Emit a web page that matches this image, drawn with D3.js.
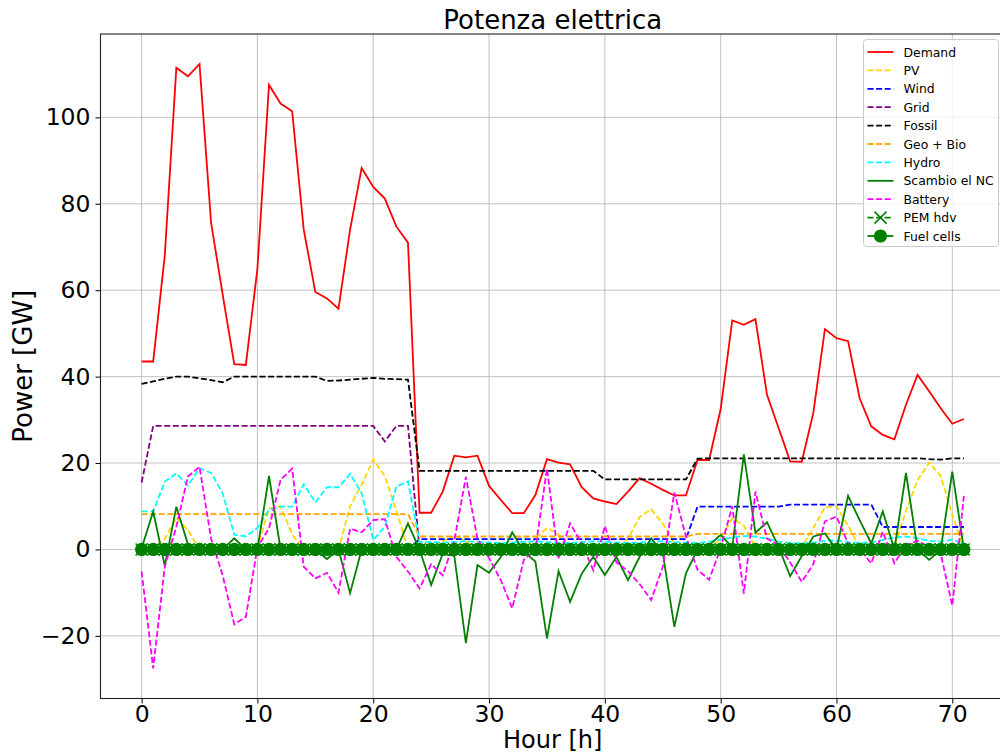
<!DOCTYPE html>
<html>
<head>
<meta charset="utf-8">
<script src="https://cdn.jsdelivr.net/npm/d3@7"></script>
<style>
  body { margin: 0; background: #fff; }
  svg { display: block; font-family: "DejaVu Sans", sans-serif; }
</style>
</head>
<body>
<script>
// ore (0..71) e potenze in GW
const hours = [
  0, 1, 2, 3, 4, 5, 6, 7, 8, 9, 10, 11, 12, 13, 14, 15, 16, 17, 18, 19, 20, 21, 22, 23,
  24, 25, 26, 27, 28, 29, 30, 31, 32, 33, 34, 35, 36, 37, 38, 39, 40, 41, 42, 43, 44, 45, 46, 47,
  48, 49, 50, 51, 52, 53, 54, 55, 56, 57, 58, 59, 60, 61, 62, 63, 64, 65, 66, 67, 68, 69, 70, 71
]
const demand = [
  43.5, 43.5, 68, 111.5, 109.5, 112.3, 75.6, 59, 42.9, 42.7, 65, 107.5, 103.2, 101.4, 74, 59.6, 58.1, 55.7, 74, 88.3, 83.9, 81.2, 74.7, 71,
  8.5, 8.5, 13.4, 21.7, 21.3, 21.7, 14.7, 11.5, 8.4, 8.4, 12.6, 20.9, 20.1, 19.7, 14.4, 11.8, 11.1, 10.5, 13.4, 16.5, 15.2, 13.8, 12.5, 12.5,
  20.7, 20.7, 32.5, 53, 52, 53.3, 35.8, 28.1, 20.4, 20.3, 31.6, 51, 48.9, 48.2, 35, 28.5, 26.5, 25.5, 33.5, 40.4, 36.6, 32.7, 29.1, 30.2
]
const pv = [
  0, 0, 2.5, 7.3, 4.5, 0, 0, 0, 0, 0, 0.5, 9.5, 10, 3.5, 0, 0, 0, 0, 10, 15, 20.8, 17, 9, 0,
  0, 0, 2, 3, 2, 0, 0, 0, 0, 0, 2.5, 5, 3.5, 0.5, 0, 0, 0, 0, 2.5, 7.5, 9.3, 6, 1.5, 0,
  0, 0, 2.5, 7.2, 5.5, 0.5, 0, 0, 0, 0.5, 5, 9.8, 10, 5.5, 0.5, 0, 0, 0.5, 9, 16, 20.1, 17, 8, 0
]
const wind = [
  0, 0, 0, 0, 0, 0, 0, 0, 0, 0, 0, 0, 0, 0, 0, 0, 0, 0, 0, 0, 0, 0, 0, 0,
  2.4, 2.4, 2.4, 2.4, 2.4, 2.4, 2.4, 2.4, 2.4, 2.4, 2.4, 2.4, 2.4, 2.4, 2.4, 2.4, 2.4, 2.4, 2.4, 2.4, 2.4, 2.4, 2.4, 2.4,
  9.9, 9.9, 9.9, 9.9, 9.9, 9.9, 9.9, 9.9, 10.4, 10.4, 10.4, 10.4, 10.4, 10.4, 10.4, 10.4, 5.2, 5.2, 5.2, 5.2, 5.2, 5.2, 5.2, 5.2
]
const grid = [
  15.5, 28.6, 28.6, 28.6, 28.6, 28.6, 28.6, 28.6, 28.6, 28.6, 28.6, 28.6, 28.6, 28.6, 28.6, 28.6, 28.6, 28.6, 28.6, 28.6, 28.6, 25, 28.6, 28.6,
  0, 0, 0, 0, 0, 0, 0, 0, 0, 0, 0, 0, 0, 0, 0, 0, 0, 0, 0, 0, 0, 0, 0, 0,
  0, 0, 0, 0, 0, 0, 0, 0, 0, 0, 0, 0, 0, 0, 0, 0, 0, 0, 0, 0, 0, 0, 0, 0
]
const fossil = [
  38.3, 38.9, 39.5, 40, 40, 39.6, 39.2, 38.7, 40, 40, 40, 40, 40, 40, 40, 40, 39, 39.1, 39.3, 39.5, 39.7, 39.5, 39.4, 39.3,
  18.2, 18.2, 18.2, 18.2, 18.2, 18.2, 18.2, 18.2, 18.2, 18.2, 18.2, 18.2, 18.2, 18.2, 18.2, 18.2, 16.2, 16.2, 16.2, 16.2, 16.2, 16.2, 16.2, 16.2,
  21, 21.1, 21.1, 21.1, 21.1, 21.1, 21.1, 21.1, 21.1, 21.1, 21.1, 21.1, 21.1, 21.1, 21.1, 21.1, 21.1, 21.1, 21.1, 21.1, 20.9, 20.8, 21.1, 21.1
]
const geoBio = [
  8.2, 8.2, 8.2, 8.2, 8.2, 8.2, 8.2, 8.2, 8.2, 8.2, 8.2, 8.2, 8.2, 8.2, 8.2, 8.2, 8.2, 8.2, 8.2, 8.2, 8.2, 8.2, 8.2, 8.2,
  3, 3, 3, 3, 3, 3, 3, 3, 3, 3, 3, 3, 3, 3, 3, 3, 3, 3, 3, 3, 3, 3, 3, 3,
  3.6, 3.6, 3.6, 3.6, 3.6, 3.6, 3.6, 3.6, 3.6, 3.6, 3.6, 3.6, 3.6, 3.6, 3.6, 3.6, 3.6, 3.6, 3.6, 3.6, 3.6, 3.6, 3.6, 3.6
]
const hydro = [
  8.8, 8.8, 15.7, 17.6, 14.8, 18.8, 17.7, 13, 3.4, 3, 5, 9.2, 9.9, 9.9, 15.1, 10.9, 14.4, 14.4, 17.5, 13, 2.2, 5.3, 14.6, 15.7,
  1.8, 1.7, 1.6, 1.7, 1.9, 1.8, 1.6, 1.5, 1.6, 1.8, 1.9, 1.7, 1.5, 1.5, 1.7, 1.9, 1.8, 1.6, 1.5, 1.6, 1.8, 1.9, 1.7, 1.6,
  1.5, 1.8, 2.3, 2.8, 3.1, 3, 2.5, 1.8, 1.5, 1.4, 1.6, 2, 2.1, 1.7, 1.5, 1.6, 2.2, 2.8, 3, 2.6, 2, 1.8, 2.3, 1.2
]
const scambio = [
  0.3, 8.8, -3.8, 9.9, 1.2, 0, 0, 0, 2.6, 0, 0, 17, 0, 0, 0, 0, -2.2, 0, -10.1, 0, 0, 0, 0, 6,
  0, -8.2, -1, -1.5, -21.7, -3.6, -5.4, -1.8, 4, -0.5, -2.8, -20.6, -5, -12.1, -5.6, -1.7, -5.9, -1.7, -7.1, -1.7, 2.6, -0.8, -17.9, -5.5,
  0, 1, 3.4, 0.5, 22, 3.9, 6.3, 0.6, -6.2, -1.5, 3, 3.7, 0, 12.4, 6.8, 1.4, 8.8, 0, 17.7, 0, -2.4, 0, 18, 0
]
const battery = [
  -5.1, -27.5, -4, 5.3, 16.9, 19.1, 2.5, -6, -17.3, -15.6, 0.5, 4.9, 16.1, 18.7, -4, -6.7, -5.4, -10, 4.8, 4, 6.8, 7, -1.7, -5.1,
  -9, -3.4, -6, 2, 16.8, 2.5, -2, -7, -13.6, -2.4, 0, 18.7, -2, 6, 1.4, -4.8, 5.4, -3, -5, -8, -11.7, -4, 13.2, 3,
  -4.7, -7, 0.3, 10, -10.2, 13.4, 2.5, 1, -3, -7.5, -3.4, 6.5, 7.6, 1.4, 0, -3.2, 4.1, -3.2, 1, 2, 0.5, -1, -13, 12.4
]
const pemHdv = [
  0, 0, 0, 0, 0, 0, 0, 0, 0, 0, 0, 0, 0, 0, 0, 0, 0, 0, 0, 0, 0, 0, 0, 0,
  0, 0, 0, 0, 0, 0, 0, 0, 0, 0, 0, 0, 0, 0, 0, 0, 0, 0, 0, 0, 0, 0, 0, 0,
  0, 0, 0, 0, 0, 0, 0, 0, 0, 0, 0, 0, 0, 0, 0, 0, 0, 0, 0, 0, 0, 0, 0, 0
]
const fuelCells = [
  0, 0, 0, 0, 0, 0, 0, 0, 0, 0, 0, 0, 0, 0, 0, 0, 0, 0, 0, 0, 0, 0, 0, 0,
  0, 0, 0, 0, 0, 0, 0, 0, 0, 0, 0, 0, 0, 0, 0, 0, 0, 0, 0, 0, 0, 0, 0, 0,
  0, 0, 0, 0, 0, 0, 0, 0, 0, 0, 0, 0, 0, 0, 0, 0, 0, 0, 0, 0, 0, 0, 0, 0
]
const xTicks = [0, 10, 20, 30, 40, 50, 60, 70]
const yTicks = [-20, 0, 20, 40, 60, 80, 100]

const series = [
  { name: 'Demand', values: demand, color: 'red', dash: null },
  { name: 'PV', values: pv, color: 'gold', dash: '6,2.6' },
  { name: 'Wind', values: wind, color: 'blue', dash: '6,2.6' },
  { name: 'Grid', values: grid, color: 'purple', dash: '6,2.6' },
  { name: 'Fossil', values: fossil, color: 'black', dash: '6,2.6' },
  { name: 'Geo + Bio', values: geoBio, color: 'orange', dash: '6,2.6' },
  { name: 'Hydro', values: hydro, color: 'cyan', dash: '6,2.6' },
  { name: 'Scambio el NC', values: scambio, color: 'green', dash: null },
  { name: 'Battery', values: battery, color: 'magenta', dash: '6,2.6' },
  { name: 'PEM hdv', values: pemHdv, color: 'green', dash: '6,2.6', marker: 'x' },
  { name: 'Fuel cells', values: fuelCells, color: 'green', dash: null, marker: 'o' }
]

const W = 1000, H = 754
const mLeft = 100.5, mRight = 1005, mTop = 34, mBottom = 698.5

const svg = d3.select('body').append('svg')
  .attr('width', W)
  .attr('height', H)

// scale con margine del 5% come matplotlib
const xExt = d3.extent(hours)
const xPad = (xExt[1] - xExt[0]) * 0.05
const x = d3.scaleLinear().domain([xExt[0] - xPad, xExt[1] + xPad]).range([mLeft, mRight])

const allVals = series.flatMap(s => s.values)
const yExt = d3.extent(allVals)
const yPad = (yExt[1] - yExt[0]) * 0.05
const y = d3.scaleLinear().domain([yExt[0] - yPad, yExt[1] + yPad]).range([mBottom, mTop])

svg.append('clipPath').attr('id', 'clip')
  .append('rect')
  .attr('x', mLeft).attr('y', mTop)
  .attr('width', mRight - mLeft).attr('height', mBottom - mTop)

// griglia
const gridG = svg.append('g')
gridG.selectAll(null)
  .data(xTicks)
  .enter().append('line')
  .attr('x1', d => x(d)).attr('x2', d => x(d))
  .attr('y1', mTop).attr('y2', mBottom)
  .attr('stroke', '#b0b0b0').attr('stroke-width', 1).attr('opacity', 0.75)
gridG.selectAll(null)
  .data(yTicks)
  .enter().append('line')
  .attr('x1', mLeft).attr('x2', mRight)
  .attr('y1', d => y(d)).attr('y2', d => y(d))
  .attr('stroke', '#b0b0b0').attr('stroke-width', 1).attr('opacity', 0.75)

// assi
const xAxis = svg.append('g')
  .attr('transform', `translate(0,${mBottom})`)
  .call(d3.axisBottom(x).tickValues(xTicks).tickSize(5).tickPadding(2).tickFormat(d3.format('d')))
const yAxis = svg.append('g')
  .attr('transform', `translate(${mLeft},0)`)
  .call(d3.axisLeft(y).tickValues(yTicks).tickSize(5).tickPadding(5)
    .tickFormat(d => d < 0 ? '\u2212' + Math.abs(d) : d))

xAxis.select('.domain').remove()
yAxis.select('.domain').remove()
svg.selectAll('.tick text')
  .attr('font-size', 23.5)
  .attr('font-family', 'DejaVu Sans')
  .attr('fill', '#000')
svg.selectAll('.tick line').attr('stroke', '#000').attr('stroke-width', 1)

// cornice
svg.append('rect')
  .attr('x', mLeft).attr('y', mTop)
  .attr('width', mRight - mLeft).attr('height', mBottom - mTop)
  .attr('fill', 'none')
  .attr('stroke', '#222')
  .attr('stroke-width', 1.1)

// linee
const plot = svg.append('g').attr('clip-path', 'url(#clip)')
const line = d3.line()
  .x((d, i) => x(hours[i]))
  .y(d => y(d))

series.forEach(s => {
  plot.append('path')
    .datum(s.values)
    .attr('d', line)
    .attr('fill', 'none')
    .attr('stroke', s.color)
    .attr('stroke-width', 1.8)
    .attr('stroke-dasharray', s.dash)

  if (s.marker === 'x') {
    plot.selectAll(null)
      .data(s.values)
      .enter().append('path')
      .attr('d', (d, i) => {
        const cx = x(hours[i]), cy = y(d), r = 6
        return `M${cx - r},${cy - r}L${cx + r},${cy + r}M${cx - r},${cy + r}L${cx + r},${cy - r}`
      })
      .attr('stroke', s.color)
      .attr('stroke-width', 1.5)
  }
  if (s.marker === 'o') {
    plot.selectAll(null)
      .data(s.values)
      .enter().append('circle')
      .attr('cx', (d, i) => x(hours[i]))
      .attr('cy', d => y(d))
      .attr('r', 6.6)
      .attr('fill', s.color)
  }
})

// titolo ed etichette
svg.append('text')
  .attr('x', (mLeft + mRight) / 2)
  .attr('y', 29)
  .attr('text-anchor', 'middle')
  .attr('font-size', 26)
  .text('Potenza elettrica')

svg.append('text')
  .attr('x', (mLeft + mRight) / 2)
  .attr('y', 747.5)
  .attr('text-anchor', 'middle')
  .attr('font-size', 24)
  .text('Hour [h]')

svg.append('text')
  .attr('transform', `translate(32,${(mTop + mBottom) / 2}) rotate(-90)`)
  .attr('text-anchor', 'middle')
  .attr('font-size', 26)
  .text('Power [GW]')

// legenda
const legX = 863.5, legY = 39.5, legW = 135, rowH = 18.4
const legend = svg.append('g')
legend.append('rect')
  .attr('x', legX).attr('y', legY)
  .attr('width', legW).attr('height', 207)
  .attr('rx', 3)
  .attr('fill', 'white').attr('fill-opacity', 0.8)
  .attr('stroke', '#cccccc')

const rows = legend.selectAll('g.row')
  .data(series)
  .enter().append('g')
  .attr('transform', (d, i) => `translate(${legX + 4},${legY + 12.5 + i * rowH})`)

rows.append('line')
  .attr('x1', 0).attr('x2', 26)
  .attr('stroke', d => d.color)
  .attr('stroke-width', 1.8)
  .attr('stroke-dasharray', d => d.dash)

rows.filter(d => d.marker === 'x').append('path')
  .attr('d', 'M7,-6L19,6M7,6L19,-6')
  .attr('stroke', d => d.color)
  .attr('stroke-width', 1.5)

rows.filter(d => d.marker === 'o').append('circle')
  .attr('cx', 13).attr('r', 6.6)
  .attr('fill', d => d.color)

rows.append('text')
  .attr('x', 36)
  .attr('y', 4.5)
  .attr('font-size', 12.4)
  .text(d => d.name)
</script>
</body>
</html>
